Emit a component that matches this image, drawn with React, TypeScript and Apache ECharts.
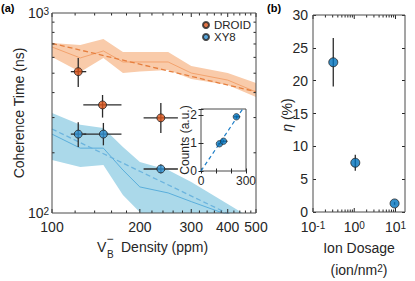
import React, { useEffect, useRef } from 'react';
import * as echarts from 'echarts';

const FONT = '"Liberation Sans", Arial, Helvetica, sans-serif';
const INK = '#262626';
const BOX = '#4a4a4a';
const ERR = '#2b2b2b';
const ORANGE = '#D95319';
const BLUE_A = '#2F8ED0';
const BLUE = '#0072BD';

// ---------- panel (a): tick values ----------
const densityTicks = [100, 200, 300, 400, 500];
const densityMinorTicks = [120, 140, 160, 180, 220, 240, 260, 280, 320, 340, 360, 380, 420, 440, 460, 480];
const timeMinorTicks = [200, 300, 400, 500, 600, 700, 800, 900];

// ---------- panel (a): measured points ----------
const droidX = [123, 149, 236];
const droidY = [509, 347, 299];
const droidXLo = [116, 128, 206];
const droidXHi = [131, 173, 270];
const droidYLo = [427, 300, 251];
const droidYHi = [596, 389, 355];

const xy8X = [123, 150, 236];
const xy8Y = [248, 248, 166];
const xy8XLo = [116, 128, 206];
const xy8XHi = [131, 173, 270];
const xy8YLo = [214, 218, 158];
const xy8YHi = [284, 282, 175];

// ---------- panel (a): simulations ----------
const simX = [100, 125, 150, 175, 200, 250, 300, 400, 500];
const droidSim = [676, 596, 646, 569, 569, 569, 501, 462, 403];
const droidSimLo = [603, 507, 596, 501, 510, 519, 468, 437, 380];
const droidSimHi = [708, 692, 741, 638, 638, 638, 543, 501, 447];
const xy8Sim = [248, 211, 211, 164, 135, 126, 114, 98, 88];
const xy8SimLo = [184, 170, 174, 123, 101, 80, 68, 55, 48];
const xy8SimHi = [316, 276, 266, 214, 180, 164, 143, 111, 91];

// power-law fits (end points)
const fitX = [100, 500];
const droidFit = [705, 404];
const xy8Fit = [263, 85];

// ---------- inset ----------
const insetX = [123, 150, 236];
const insetY = [0.98, 1.07, 1.95];
const insetXLo = [114, 135, 218];
const insetXHi = [132, 177, 262];
const insetYLo = [0.95, 1.03, 1.9];
const insetYHi = [1.01, 1.11, 2.0];
const insetFitX = [0, 300];
const insetFitY = [0, 2.41];

// ---------- panel (b) ----------
const doseMajorTicks = [0.1, 1, 10];
const doseMinorTicks = [0.2, 0.3, 0.4, 0.5, 0.6, 0.7, 0.8, 0.9, 2, 3, 4, 5, 6, 7, 8, 9];
const dose = [0.31, 1.06, 9.5];
const eta = [22.8, 7.5, 1.3];
const etaLo = [19.1, 6.3, 1.1];
const etaHi = [26.5, 8.7, 1.5];

const supRich = {
  base: { fontSize: 14, fontFamily: FONT, color: INK },
  sup: { fontSize: 10, fontFamily: FONT, color: INK, verticalAlign: 'top' as const },
};

function powLabel(v: number) {
  const e = Math.log10(v);
  const r = Math.round(e);
  if (Math.abs(e - r) > 1e-6) return '';
  return '{base|10}{sup|' + r + '}';
}

function errRender(lw: number) {
  return (params: any, api: any) => {
    const x = api.value(0);
    const y = api.value(1);
    const style = { stroke: ERR, lineWidth: lw };
    const h0 = api.coord([api.value(2), y]);
    const h1 = api.coord([api.value(3), y]);
    const v0 = api.coord([x, api.value(4)]);
    const v1 = api.coord([x, api.value(5)]);
    return {
      type: 'group',
      children: [
        { type: 'line', shape: { x1: h0[0], y1: h0[1], x2: h1[0], y2: h1[1] }, style },
        { type: 'line', shape: { x1: v0[0], y1: v0[1], x2: v1[0], y2: v1[1] }, style },
      ],
    };
  };
}

function bandSeries(xs: number[], lo: number[], hi: number[], fill: string, xi: number, yi: number) {
  return {
    type: 'custom',
    xAxisIndex: xi,
    yAxisIndex: yi,
    silent: true,
    clip: true,
    z: 1,
    encode: { x: 0, y: [1, 2] },
    data: xs.map((x, i) => [x, lo[i], hi[i]]),
    renderItem: (params: any, api: any) => {
      if (params.dataIndex !== 0) return { type: 'group', children: [] };
      const pts: number[][] = [];
      for (let i = 0; i < xs.length; i++) pts.push(api.coord([xs[i], hi[i]]));
      for (let i = xs.length - 1; i >= 0; i--) pts.push(api.coord([xs[i], lo[i]]));
      return { type: 'polygon', shape: { points: pts }, style: { fill } };
    },
  };
}

function xTickSeries(xi: number, yi: number, values: number[], anchorY: number, len: number, labels: boolean) {
  return {
    type: 'custom',
    xAxisIndex: xi,
    yAxisIndex: yi,
    silent: true,
    clip: false,
    z: 6,
    encode: { x: 0, y: 1 },
    data: values.map((v) => [v, anchorY]),
    renderItem: (params: any, api: any) => {
      const cs = params.coordSys;
      const v = api.value(0);
      const px = api.coord([v, anchorY])[0];
      const bottom = cs.y + cs.height;
      const top = cs.y;
      const style = { stroke: INK, lineWidth: 1 };
      const children: any[] = [
        { type: 'line', shape: { x1: px, y1: bottom, x2: px, y2: bottom - len }, style },
        { type: 'line', shape: { x1: px, y1: top, x2: px, y2: top + len }, style },
      ];
      if (labels) {
        children.push({
          type: 'text',
          x: px,
          y: bottom + 7,
          style: { text: String(v), fill: INK, fontSize: 14, fontFamily: FONT, align: 'center', verticalAlign: 'top' },
        });
      }
      return { type: 'group', children };
    },
  };
}

function yTickSeries(xi: number, yi: number, values: number[], anchorX: number, len: number) {
  return {
    type: 'custom',
    xAxisIndex: xi,
    yAxisIndex: yi,
    silent: true,
    clip: false,
    z: 6,
    encode: { x: 0, y: 1 },
    data: values.map((v) => [anchorX, v]),
    renderItem: (params: any, api: any) => {
      const cs = params.coordSys;
      const py = api.coord([anchorX, api.value(1)])[1];
      const left = cs.x;
      const right = cs.x + cs.width;
      const style = { stroke: INK, lineWidth: 1 };
      return {
        type: 'group',
        children: [
          { type: 'line', shape: { x1: left, y1: py, x2: left + len, y2: py }, style },
          { type: 'line', shape: { x1: right, y1: py, x2: right - len, y2: py }, style },
        ],
      };
    },
  };
}

const hidden = { show: false };

const option: any = {
  animation: false,
  backgroundColor: '#fff',
  textStyle: { fontFamily: FONT, color: INK },
  grid: [
    { left: 52, top: 13, width: 204, height: 200, show: true, borderColor: BOX, borderWidth: 1, backgroundColor: 'transparent', z: 8, outerBoundsMode: 'none', containLabel: false },
    { left: 201, top: 109, width: 45, height: 62, show: true, borderColor: BOX, borderWidth: 1, backgroundColor: '#fff', z: 9, outerBoundsMode: 'none', containLabel: false },
    { left: 313, top: 15, width: 92, height: 197, show: true, borderColor: BOX, borderWidth: 1, backgroundColor: 'transparent', z: 8, outerBoundsMode: 'none', containLabel: false },
  ],
  xAxis: [
    { gridIndex: 0, type: 'log', logBase: 10, min: 100, max: 500, axisLine: hidden, axisTick: hidden, axisLabel: hidden, splitLine: hidden, minorTick: hidden },
    {
      gridIndex: 1, type: 'value', min: 0, max: 300, interval: 100, z: 10,
      axisLine: hidden, splitLine: hidden,
      axisTick: { inside: true, length: 2.5, lineStyle: { color: INK, width: 1 } },
      axisLabel: { fontSize: 12, fontFamily: FONT, color: INK, margin: 4, formatter: (v: number) => (v === 0 || v === 300 ? String(v) : '') },
    },
    {
      gridIndex: 1, type: 'value', min: 0, max: 300, interval: 100, position: 'top', z: 10,
      axisLine: hidden, splitLine: hidden, axisLabel: hidden,
      axisTick: { inside: true, length: 2.5, lineStyle: { color: INK, width: 1 } },
    },
    {
      gridIndex: 2, type: 'log', logBase: 10, min: 0.1, max: 17, axisLine: hidden, axisTick: hidden, splitLine: hidden,
      axisLabel: { margin: 8, formatter: powLabel, rich: supRich },
    },
  ],
  yAxis: [
    {
      gridIndex: 0, type: 'log', logBase: 10, min: 100, max: 1000, axisLine: hidden, axisTick: hidden, splitLine: hidden,
      axisLabel: { margin: 3, formatter: powLabel, rich: supRich },
    },
    {
      gridIndex: 1, type: 'value', min: 0, max: 2.23, interval: 1, z: 10,
      axisLine: hidden, splitLine: hidden,
      axisTick: { inside: true, length: 2.5, lineStyle: { color: INK, width: 1 } },
      axisLabel: { fontSize: 12, fontFamily: FONT, color: INK, margin: 4, formatter: (v: number) => (Number.isInteger(v) ? String(v) : '') },
    },
    {
      gridIndex: 1, type: 'value', min: 0, max: 2.23, interval: 1, position: 'right', z: 10,
      axisLine: hidden, splitLine: hidden, axisLabel: hidden,
      axisTick: { inside: true, length: 2.5, lineStyle: { color: INK, width: 1 } },
    },
    {
      gridIndex: 2, type: 'value', min: 0, max: 30, interval: 5,
      axisLine: hidden, splitLine: hidden,
      axisTick: { inside: true, length: 3, lineStyle: { color: INK, width: 1 } },
      axisLabel: { fontSize: 14, fontFamily: FONT, color: INK, margin: 5 },
    },
    {
      gridIndex: 2, type: 'value', min: 0, max: 30, interval: 5, position: 'right',
      axisLine: hidden, splitLine: hidden, axisLabel: hidden,
      axisTick: { inside: true, length: 3, lineStyle: { color: INK, width: 1 } },
    },
  ],
  legend: {
    orient: 'vertical',
    left: 202,
    top: 19,
    padding: 0,
    itemGap: 0,
    itemWidth: 6,
    itemHeight: 6,
    textStyle: { fontSize: 11.5, lineHeight: 12, fontFamily: FONT, color: INK },
    data: [
      { name: 'DROID', icon: 'circle' },
      { name: 'XY8', icon: 'circle' },
    ],
  },
  series: [
    bandSeries(simX, droidSimLo, droidSimHi, '#F9CBAA', 0, 0),
    bandSeries(simX, xy8SimLo, xy8SimHi, '#ABD9EA', 0, 0),
    {
      name: 'droidSim', type: 'line', xAxisIndex: 0, yAxisIndex: 0, symbol: 'none', z: 2, silent: true,
      lineStyle: { color: '#F3A36E', width: 1 }, data: simX.map((x, i) => [x, droidSim[i]]),
    },
    {
      name: 'xy8Sim', type: 'line', xAxisIndex: 0, yAxisIndex: 0, symbol: 'none', z: 2, silent: true,
      lineStyle: { color: '#5AAEDB', width: 1 }, data: simX.map((x, i) => [x, xy8Sim[i]]),
    },
    {
      name: 'droidFit', type: 'line', xAxisIndex: 0, yAxisIndex: 0, symbol: 'none', z: 2, silent: true,
      lineStyle: { color: '#E67F3E', width: 1.3, type: [5, 3] }, data: fitX.map((x, i) => [x, droidFit[i]]),
    },
    {
      name: 'xy8Fit', type: 'line', xAxisIndex: 0, yAxisIndex: 0, symbol: 'none', z: 2, silent: true,
      lineStyle: { color: '#6CB4DE', width: 1.3, type: [5, 3] }, data: fitX.map((x, i) => [x, xy8Fit[i]]),
    },
    {
      name: 'droidErr', type: 'custom', xAxisIndex: 0, yAxisIndex: 0, z: 4, silent: true, encode: { x: 0, y: 1 },
      data: droidX.map((x, i) => [x, droidY[i], droidXLo[i], droidXHi[i], droidYLo[i], droidYHi[i]]),
      renderItem: errRender(1.3),
    },
    {
      name: 'xy8Err', type: 'custom', xAxisIndex: 0, yAxisIndex: 0, z: 4, silent: true, encode: { x: 0, y: 1 },
      data: xy8X.map((x, i) => [x, xy8Y[i], xy8XLo[i], xy8XHi[i], xy8YLo[i], xy8YHi[i]]),
      renderItem: errRender(1.3),
    },
    {
      name: 'DROID', type: 'scatter', xAxisIndex: 0, yAxisIndex: 0, z: 5, symbol: 'circle', symbolSize: 8,
      itemStyle: { color: ORANGE, borderColor: '#222', borderWidth: 1 },
      data: droidX.map((x, i) => [x, droidY[i]]),
    },
    {
      name: 'XY8', type: 'scatter', xAxisIndex: 0, yAxisIndex: 0, z: 5, symbol: 'circle', symbolSize: 8,
      itemStyle: { color: BLUE_A, borderColor: '#222', borderWidth: 1 },
      data: xy8X.map((x, i) => [x, xy8Y[i]]),
    },
    xTickSeries(0, 0, densityTicks, 100, 4, true),
    xTickSeries(0, 0, densityMinorTicks, 100, 2.5, false),
    yTickSeries(0, 0, timeMinorTicks, 100, 2.5),
    // inset
    {
      name: 'insetFit', type: 'line', xAxisIndex: 1, yAxisIndex: 1, symbol: 'none', z: 12, silent: true,
      lineStyle: { color: '#1F7FC8', width: 1.2, type: [4, 3] }, data: insetFitX.map((x, i) => [x, insetFitY[i]]),
    },
    {
      name: 'insetErr', type: 'custom', xAxisIndex: 1, yAxisIndex: 1, z: 13, silent: true, encode: { x: 0, y: 1 },
      data: insetX.map((x, i) => [x, insetY[i], insetXLo[i], insetXHi[i], insetYLo[i], insetYHi[i]]),
      renderItem: errRender(1),
    },
    {
      name: 'insetPts', type: 'scatter', xAxisIndex: 1, yAxisIndex: 1, z: 14, symbol: 'circle', symbolSize: 6.5,
      itemStyle: { color: BLUE, borderColor: '#222', borderWidth: 0.8 },
      data: insetX.map((x, i) => [x, insetY[i]]),
    },
    // panel (b)
    {
      name: 'etaErr', type: 'custom', xAxisIndex: 3, yAxisIndex: 3, z: 4, silent: true, encode: { x: 0, y: 1 },
      data: dose.map((x, i) => [x, eta[i], x, x, etaLo[i], etaHi[i]]),
      renderItem: errRender(1.3),
    },
    {
      name: 'eta', type: 'scatter', xAxisIndex: 3, yAxisIndex: 3, z: 5, symbol: 'circle', symbolSize: 9,
      itemStyle: { color: BLUE, borderColor: '#222', borderWidth: 1 },
      data: dose.map((x, i) => [x, eta[i]]),
    },
    xTickSeries(3, 3, doseMajorTicks, 0, 4, false),
    xTickSeries(3, 3, doseMinorTicks, 0, 2.5, false),
  ],
  graphic: [
    { type: 'text', left: 1, top: 2, style: { text: '(a)', fontSize: 11, fontWeight: 'bold', fontFamily: FONT, fill: '#000' } },
    { type: 'text', left: 267, top: 2, style: { text: '(b)', fontSize: 11, fontWeight: 'bold', fontFamily: FONT, fill: '#000' } },
    {
      type: 'text', x: 19, y: 113, rotation: Math.PI / 2,
      style: { text: 'Coherence Time (ns)', fontSize: 14, fontFamily: FONT, fill: INK, align: 'center', verticalAlign: 'middle' },
    },
    { type: 'text', x: 97, y: 247, style: { text: 'V', fontSize: 14, fontFamily: FONT, fill: INK, align: 'left', verticalAlign: 'middle' } },
    { type: 'text', x: 106.5, y: 239, style: { text: '−', fontSize: 12, fontFamily: FONT, fill: INK, align: 'left', verticalAlign: 'middle' } },
    { type: 'text', x: 107, y: 254, style: { text: 'B', fontSize: 10, fontFamily: FONT, fill: INK, align: 'left', verticalAlign: 'middle' } },
    { type: 'text', x: 121, y: 247, style: { text: 'Density (ppm)', fontSize: 14, fontFamily: FONT, fill: INK, align: 'left', verticalAlign: 'middle' } },
    {
      type: 'text', x: 185, y: 140, rotation: Math.PI / 2, z: 20,
      style: { text: 'Counts (a.u.)', fontSize: 12, fontFamily: FONT, fill: INK, align: 'center', verticalAlign: 'middle' },
    },
    {
      type: 'text', x: 287, y: 115, rotation: Math.PI / 2,
      style: {
        text: '{i|η} (%)', fontSize: 14, fontFamily: FONT, fill: INK, align: 'center', verticalAlign: 'middle',
        rich: { i: { fontSize: 14, fontStyle: 'italic', fontFamily: FONT, fill: INK } },
      },
    },
    { type: 'text', x: 359, y: 248, style: { text: 'Ion Dosage', fontSize: 14, fontFamily: FONT, fill: INK, align: 'center', verticalAlign: 'middle' } },
    {
      type: 'text', x: 359, y: 270,
      style: {
        text: '(ion/nm{sup|2})', fontSize: 14, fontFamily: FONT, fill: INK, align: 'center', verticalAlign: 'middle',
        rich: { sup: { fontSize: 10, fontFamily: FONT, fill: INK, verticalAlign: 'top' } },
      },
    },
  ],
};

export default function App() {
  const ref = useRef<HTMLDivElement>(null);
  useEffect(() => {
    document.body.style.margin = '0';
    const chart = echarts.init(ref.current as HTMLDivElement, null, { renderer: 'svg' });
    chart.setOption(option);
    return () => chart.dispose();
  }, []);
  return <div ref={ref} style={{ position: 'absolute', left: 0, top: 0, width: 415, height: 281, background: '#fff' }} />;
}
